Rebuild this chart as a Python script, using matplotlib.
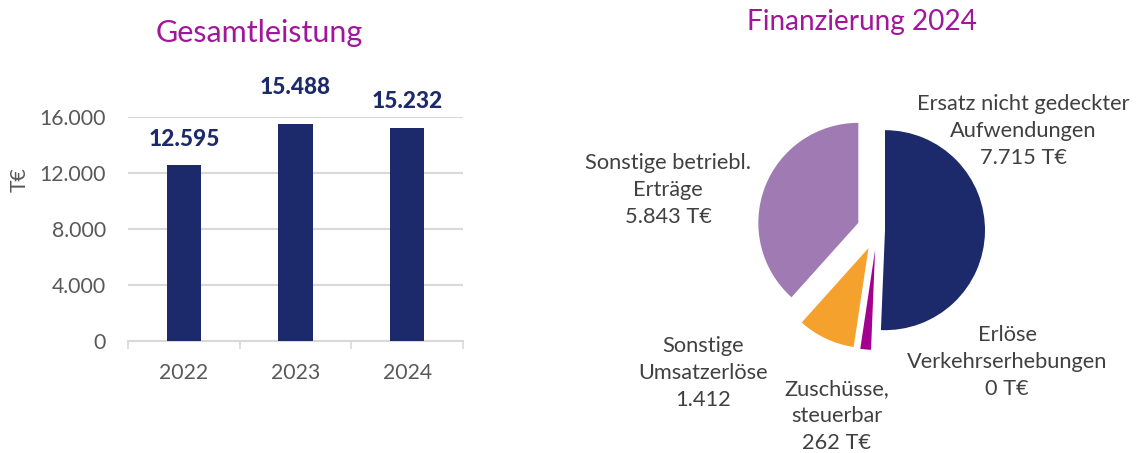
import matplotlib
matplotlib.use("Agg")
import matplotlib.pyplot as plt
import numpy as np

plt.rcParams['font.family'] = ['Lato', 'DejaVu Sans']

# ---- data ----
years = ["2022", "2023", "2024"]
gesamtleistung = [12595, 15488, 15232]
bar_value_labels = ["12.595", "15.488", "15.232"]
y_ticks = [0, 4000, 8000, 12000, 16000]
y_tick_labels = ["0", "4.000", "8.000", "12.000", "16.000"]

pie_categories = ["Ersatz nicht gedeckter\nAufwendungen",
                  "Erlöse\nVerkehrserhebungen",
                  "Zuschüsse,\nsteuerbar",
                  "Sonstige\nUmsatzerlöse",
                  "Sonstige betriebl.\nErträge"]
pie_values = [7715, 0, 262, 1412, 5843]
pie_value_labels = ["7.715 T€", "0 T€", "262 T€", "1.412", "5.843 T€"]

# ---- style ----
NAVY = "#1C2A6B"
TITLE = "#A0179A"
TICK = "#595959"
LABEL = "#404040"
GRID = "#D9D9D9"
pie_colors = [NAVY, "#FFFFFF", "#A3008F", "#F4A12D", "#A07BB3"]
explode = [0.08, 0.2, 0.2, 0.2, 0.2]
label_offsets_pt = [10.5, 19, 11]

W, H = 1136, 453
fig = plt.figure(figsize=(W / 100, H / 100), dpi=100)

def fx(px):
    return px / W

def fy(py):
    return 1 - py / H

# ---- bar chart ----
ax = fig.add_axes([fx(128), fy(341), fx(463) - fx(128), fy(117) - fy(341)])
x = np.arange(len(years))
ax.bar(x, gesamtleistung, width=0.31, color=NAVY, zorder=3)
ax.set_xlim(-0.5, len(years) - 0.5)
ax.set_ylim(0, 16000)
ax.set_yticks(y_ticks)
ax.set_yticklabels(y_tick_labels)
ax.set_xticks(x)
ax.set_xticklabels(years)
ax.set_xticks(np.arange(len(years) + 1) - 0.5, minor=True)
ax.tick_params(axis='y', length=0, pad=16, labelsize=15.3, labelcolor=TICK)
ax.tick_params(axis='x', which='major', length=0, pad=16, labelsize=15.3, labelcolor=TICK)
ax.tick_params(axis='x', which='minor', length=6, width=1.2, color=GRID)
for s in ['top', 'right', 'left']:
    ax.spines[s].set_visible(False)
ax.spines['bottom'].set_color(GRID)
ax.spines['bottom'].set_linewidth(1.5)
ax.yaxis.grid(True, color=GRID, linewidth=1.5, zorder=0)
ax.set_axisbelow(True)
for xi, v, lab, off in zip(x, gesamtleistung, bar_value_labels, label_offsets_pt):
    ax.annotate(lab, (xi, v), xytext=(0, off), textcoords='offset points',
                ha='center', va='bottom', fontsize=16.3, fontweight='black',
                color=NAVY, clip_on=False)

fig.text(fx(20), fy(180), "T€", rotation=90, ha='center', va='center',
         fontsize=15.3, color=TICK)
fig.text(fx(259), fy(33), "Gesamtleistung", ha='center', va='center',
         fontsize=22, color=TITLE)

# ---- pie chart ----
pax = fig.add_axes([fx(677), fy(430), 400 / W, 400 / H])
pax.pie(pie_values, colors=pie_colors, startangle=90, counterclock=False,
        explode=explode, radius=1.0, center=(0, 0),
        wedgeprops=dict(linewidth=0))
pax.set_xlim(-2, 2)
pax.set_ylim(-2, 2)
pax.set_aspect('equal')
pax.axis('off')

label_pos_px = [(1023, 131), (1007, 362), (837, 416), (703, 373), (668, 190)]
for cat, val, (px, py) in zip(pie_categories, pie_value_labels, label_pos_px):
    pax.text((px - 877) / 100, (230 - py) / 100, f"{cat}\n{val}",
             ha='center', va='center', fontsize=15.7, color=LABEL,
             linespacing=1.45, clip_on=False)

fig.text(fx(862), fy(22), "Finanzierung 2024", ha='center', va='center',
         fontsize=20.2, color=TITLE)

fig.savefig("out.png", dpi=100)
